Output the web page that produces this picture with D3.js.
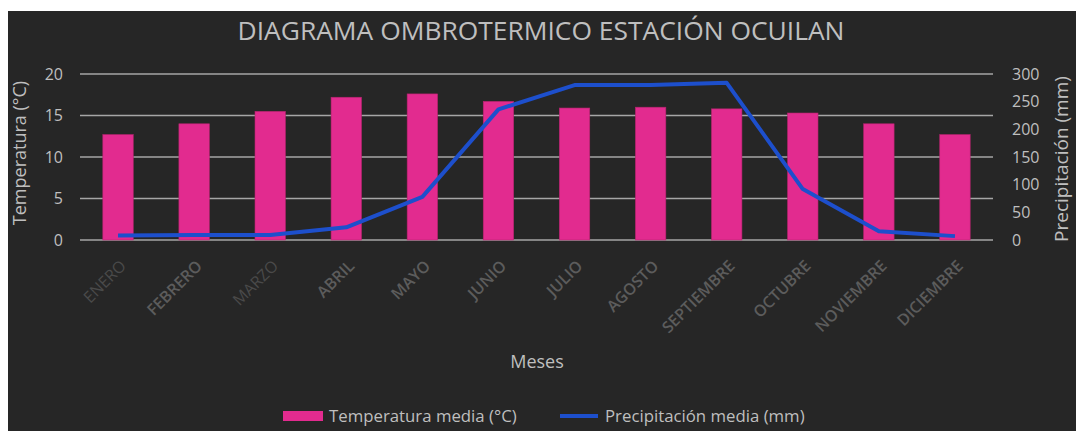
<!DOCTYPE html>
<html>
<head>
<meta charset="utf-8">
<script src="https://cdn.jsdelivr.net/npm/d3@7"></script>
<style>
  body { margin: 0; background: #fff; }
  svg { display: block; }
  text { font-family: "Open Sans", "Noto Sans", sans-serif; }
</style>
</head>
<body>
<script>
var meses = ["ENERO", "FEBRERO", "MARZO", "ABRIL", "MAYO", "JUNIO", "JULIO", "AGOSTO", "SEPTIEMBRE", "OCTUBRE", "NOVIEMBRE", "DICIEMBRE"];
var temperatura = [12.7, 14.0, 15.5, 17.2, 17.6, 16.7, 15.9, 16.0, 15.8, 15.3, 14.0, 12.7];
var precipitacion = [8, 9, 9, 23, 78, 236, 280, 280, 284, 92, 16, 7];
var ticksTemp = [0, 5, 10, 15, 20];
var ticksPrec = [0, 50, 100, 150, 200, 250, 300];

var W = 1076, H = 431;
var margin = {top: 74, right: 83, bottom: 191, left: 80},
    width = W - margin.left - margin.right,
    height = H - margin.top - margin.bottom;

var svg = d3.select("body").append("svg")
    .attr("width", W)
    .attr("height", H);

// dark panel
svg.append("rect")
    .attr("x", 8).attr("y", 11)
    .attr("width", W - 8).attr("height", H - 11)
    .attr("fill", "#262626");

svg.append("text")
    .attr("x", 541).attr("y", 40)
    .attr("text-anchor", "middle")
    .attr("fill", "#bfbfbf")
    .style("font-size", "25px")
    .attr("textLength", 607)
    .attr("lengthAdjust", "spacingAndGlyphs")
    .text("DIAGRAMA OMBROTERMICO ESTACIÓN OCUILAN");

var g = svg.append("g")
    .attr("transform", "translate(" + margin.left + "," + margin.top + ")");

var x = d3.scaleBand()
    .domain(meses)
    .range([0, width])
    .paddingInner(0.6)
    .paddingOuter(0.3);

var xc = function(d) { return x(d) + x.bandwidth() / 2; };

var yT = d3.scaleLinear().domain([0, 20]).range([height, 0]);
var yP = d3.scaleLinear().domain([0, 300]).range([height, 0]);

// grid
g.selectAll(".grid")
    .data(ticksTemp)
    .enter().append("line")
    .attr("x1", 0).attr("x2", width)
    .attr("y1", function(d) { return yT(d); })
    .attr("y2", function(d) { return yT(d); })
    .attr("stroke", "#a6a6a6")
    .attr("stroke-width", 1.5);

// bars
g.selectAll(".bar")
    .data(temperatura)
    .enter().append("rect")
    .attr("x", function(d, i) { return x(meses[i]); })
    .attr("width", x.bandwidth())
    .attr("y", function(d) { return yT(d); })
    .attr("height", function(d) { return height - yT(d); })
    .attr("fill", "#e22b8f")
    .attr("stroke", "#b8246f")
    .attr("stroke-width", 0.6);

// line
var line = d3.line()
    .x(function(d, i) { return xc(meses[i]); })
    .y(function(d) { return yP(d); });

g.append("path")
    .datum(precipitacion)
    .attr("d", line)
    .attr("fill", "none")
    .attr("stroke", "#1d4fcc")
    .attr("stroke-width", 4)
    .attr("stroke-linejoin", "round");

// left axis
g.selectAll(".tl")
    .data(ticksTemp)
    .enter().append("text")
    .attr("x", -17)
    .attr("y", function(d) { return yT(d); })
    .attr("dy", "0.35em")
    .attr("text-anchor", "end")
    .attr("fill", "#bfbfbf")
    .style("font-size", "16px")
    .text(function(d) { return d; });

// right axis
g.selectAll(".tr")
    .data(ticksPrec)
    .enter().append("text")
    .attr("x", width + 19)
    .attr("y", function(d) { return yP(d); })
    .attr("dy", "0.35em")
    .attr("text-anchor", "start")
    .attr("fill", "#bfbfbf")
    .style("font-size", "16px")
    .text(function(d) { return d; });

// month labels
var dim = {"ENERO": "#4a4a4a", "MARZO": "#4a4a4a"};
g.selectAll(".xl")
    .data(meses)
    .enter().append("text")
    .attr("transform", function(d) {
        return "translate(" + (xc(d) + 9) + "," + (height + 27) + ") rotate(-45)";
    })
    .attr("text-anchor", "end")
    .attr("fill", function(d) { return dim[d] || "#5c5c5c"; })
    .style("font-size", "16px")
    .style("font-weight", function(d) { return dim[d] ? "normal" : "600"; })
    .text(function(d) { return d; });

// axis titles
svg.append("text")
    .attr("transform", "translate(26,153) rotate(-90)")
    .attr("text-anchor", "middle")
    .attr("fill", "#bfbfbf")
    .style("font-size", "18px")
    .text("Temperatura (°C)");

svg.append("text")
    .attr("transform", "translate(1068,159) rotate(-90)")
    .attr("text-anchor", "middle")
    .attr("fill", "#bfbfbf")
    .style("font-size", "19px")
    .text("Precipitación (mm)");

svg.append("text")
    .attr("x", 537).attr("y", 368)
    .attr("text-anchor", "middle")
    .attr("fill", "#bfbfbf")
    .style("font-size", "18px")
    .text("Meses");

// legend
var leg = svg.append("g").attr("transform", "translate(0,416)");
leg.append("rect")
    .attr("x", 283).attr("y", -5)
    .attr("width", 40).attr("height", 10)
    .attr("fill", "#e22b8f");
leg.append("text")
    .attr("x", 329).attr("y", 0).attr("dy", "0.35em")
    .attr("fill", "#bfbfbf")
    .style("font-size", "16.8px")
    .text("Temperatura media (°C)");
leg.append("line")
    .attr("x1", 560).attr("x2", 598)
    .attr("y1", 0).attr("y2", 0)
    .attr("stroke", "#1d4fcc")
    .attr("stroke-width", 4);
leg.append("text")
    .attr("x", 605).attr("y", 0).attr("dy", "0.35em")
    .attr("fill", "#bfbfbf")
    .style("font-size", "16.8px")
    .text("Precipitación media (mm)");
</script>
</body>
</html>
